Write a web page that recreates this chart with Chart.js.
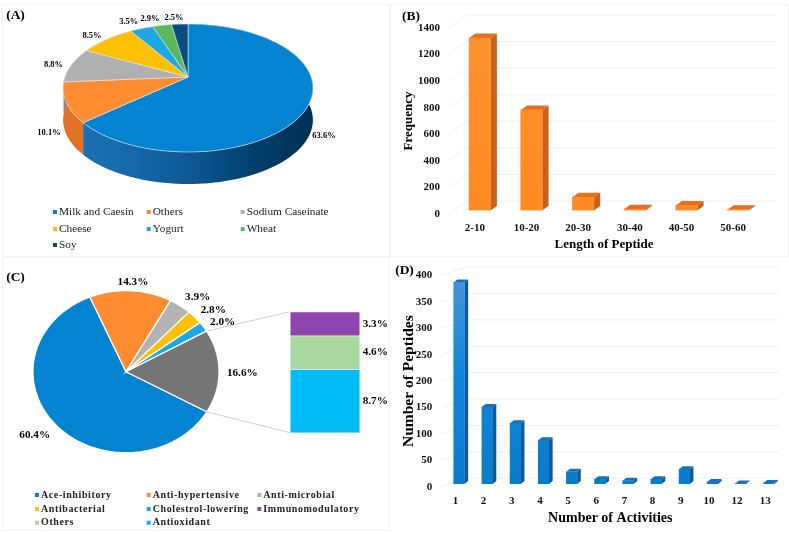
<!DOCTYPE html>
<html>
<head>
<meta charset="utf-8">
<script src="https://cdn.jsdelivr.net/npm/chart.js@4"></script>
<style>
  html, body { margin: 0; padding: 0; background: #fff; }
  #page { position: relative; width: 789px; height: 534px; overflow: hidden; filter: blur(0.35px); }
  .frame { position: absolute; border: 1.5px solid #f4f4f4; box-sizing: border-box; }
  .box { position: absolute; }
  canvas { display: block; }
</style>
</head>
<body>
<div id="page">
  <div class="frame" style="left:2px;top:4px;width:388px;height:253px"></div>
  <div class="frame" style="left:390px;top:4px;width:399px;height:253px"></div>
  <div class="frame" style="left:2px;top:257px;width:388px;height:274px"></div>
  <div class="box" style="left:0;top:0;width:390px;height:260px"><canvas id="chart_a"></canvas></div>
  <div class="box" style="left:390px;top:0;width:399px;height:260px"><canvas id="chart_b"></canvas></div>
  <div class="box" style="left:0;top:260px;width:390px;height:274px"><canvas id="chart_c"></canvas></div>
  <div class="box" style="left:280px;top:300px;width:90px;height:145px"><canvas id="chart_c_stack"></canvas></div>
  <div class="box" style="left:390px;top:260px;width:399px;height:274px"><canvas id="chart_d"></canvas></div>
</div>
<script>
const serif = "'Liberation Serif', 'Times New Roman', serif";

// panel A
const a_labels = ["Milk and Caesin", "Others", "Sodium Caseinate", "Cheese", "Yogurt", "Wheat", "Soy"];
const a_values = [63.6, 10.1, 8.8, 8.5, 3.5, 2.9, 2.5];
const a_colors = ["#0484d0", "#ff8c30", "#b0b0b0", "#ffc000", "#1ca8e6", "#5cb85c", "#0a4c80"];

// panel B
const b_labels = ["2-10", "10-20", "20-30", "30-40", "40-50", "50-60"];
const b_values = [1298, 757, 100, 10, 38, 6];

// panel C
const c_labels = ["Ace-inhibitory", "Anti-hypertensive", "Anti-microbial", "Antibacterial", "Cholestrol-lowering", ""];
const c_values = [60.4, 14.3, 3.9, 2.8, 2.0, 16.6];
const c_colors = ["#0484d0", "#ff8c30", "#b3b3b3", "#ffc000", "#1ca8e6", "#767676"];
const c_stack_labels = ["Antioxidant", "Others", "Immunomodulatory"];
const c_stack_values = [8.7, 4.6, 3.3];
const c_stack_colors = ["#00bdf7", "#a9d89e", "#9244ae"];

// panel D
const d_labels = ["1", "2", "3", "4", "5", "6", "7", "8", "9", "10", "12", "13"];
const d_values = [382, 146, 115, 83, 23, 9, 6, 9, 28, 4, 1, 2];

var project = function(p, angle) {
  // rim of the pie, p.k gives the perspective of the tilted one in panel A
  let u = Math.cos(angle), v = Math.sin(angle);
  let d = 1 - p.k * v;
  return { x: p.cx + p.a * u / d, y: p.cy + p.b * v / d };
};

var rim_points = function(p, start, end) {
  let pts = [];
  let steps = Math.max(2, Math.ceil((end - start) / 0.02));
  for (let i = 0; i <= steps; i++) {
    pts.push(project(p, start + (end - start) * i / steps));
  }
  return pts;
};

var draw_text_list = function(ctx, items) {
  ctx.save();
  ctx.fillStyle = "#000";
  ctx.textAlign = "center";
  ctx.textBaseline = "middle";
  items.forEach(function(t) {
    ctx.font = t.font;
    ctx.fillText(t.text, t.x, t.y);
  });
  ctx.restore();
};

var draw_legend = function(ctx, rows, font, spacing) {
  ctx.save();
  ctx.textAlign = "left";
  ctx.textBaseline = "middle";
  ctx.font = font;
  ctx.letterSpacing = spacing;
  rows.forEach(function(r) {
    ctx.fillStyle = r.color;
    ctx.fillRect(r.x, r.y - 2, 4, 4);
    ctx.fillStyle = "#222";
    ctx.fillText(r.text, r.x + 6, r.y);
  });
  ctx.restore();
};

// draws the slices with the angles the doughnut controller worked out
var pie_plugin = {
  id: "pie3d",
  beforeDatasetDraw(chart, args, opts) {
    let ctx = chart.ctx;
    let p = opts.shape;
    let arcs = chart.getDatasetMeta(0).data;
    let colors = chart.data.datasets[0].backgroundColor;

    ctx.save();
    if (p.depth) {
      arcs.forEach(function(arc, i) {
        let pts = rim_points(p, arc.startAngle, arc.endAngle);
        let grad = ctx.createLinearGradient(80, 0, 313, 0);
        p.wall[i].forEach((c, n) => grad.addColorStop(n / (p.wall[i].length - 1), c));
        ctx.fillStyle = grad;
        ctx.beginPath();
        pts.forEach((q, n) => n ? ctx.lineTo(q.x, q.y) : ctx.moveTo(q.x, q.y));
        pts.slice().reverse().forEach(q => ctx.lineTo(q.x, q.y + p.depth));
        ctx.closePath();
        ctx.fill();
      });
    }
    arcs.forEach(function(arc, i) {
      let pts = rim_points(p, arc.startAngle, arc.endAngle);
      ctx.beginPath();
      ctx.moveTo(p.cx, p.cy);
      pts.forEach(q => ctx.lineTo(q.x, q.y));
      ctx.closePath();
      ctx.fillStyle = colors[i];
      ctx.fill();
      ctx.strokeStyle = p.edge;
      ctx.lineWidth = p.edgeWidth;
      ctx.stroke();
    });
    ctx.restore();
    return false;
  },
  afterDraw(chart, args, opts) {
    if (opts.after) opts.after(chart);
  }
};

var depth_bars = function(ctx, meta, d) {
  // top and side faces behind the bars, same elements as the chart draws
  meta.data.forEach(function(bar) {
    let l = bar.x - bar.width / 2, r = bar.x + bar.width / 2;
    ctx.fillStyle = d.side;
    ctx.beginPath();
    ctx.moveTo(r, bar.y);
    ctx.lineTo(r + d.dx, bar.y - d.dy);
    ctx.lineTo(r + d.dx, bar.base - d.dy);
    ctx.lineTo(r, bar.base);
    ctx.closePath();
    ctx.fill();
    ctx.fillStyle = d.top;
    ctx.beginPath();
    ctx.moveTo(l, bar.y);
    ctx.lineTo(l + d.dx, bar.y - d.dy);
    ctx.lineTo(r + d.dx, bar.y - d.dy);
    ctx.lineTo(r, bar.y);
    ctx.closePath();
    ctx.fill();
  });
};

var bar_plugin = {
  id: "bar3d",
  beforeDatasetsDraw(chart, args, opts) {
    let ctx = chart.ctx;
    let y = chart.scales.y;
    let left = chart.chartArea.left;
    ctx.save();
    ctx.strokeStyle = "#f0f0f0";
    ctx.lineWidth = 1;
    y.ticks.forEach(function(t) {
      let py = y.getPixelForValue(t.value);
      ctx.beginPath();
      ctx.moveTo(left, py);
      ctx.lineTo(left + opts.wall.dx, py - opts.wall.dy);
      ctx.lineTo(opts.wall.right, py - opts.wall.dy);
      ctx.stroke();
    });
    ctx.restore();
    ctx.save();
    ctx.translate(opts.shift.x, opts.shift.y);
    depth_bars(ctx, chart.getDatasetMeta(0), opts);
  },
  afterDatasetsDraw(chart, args, opts) {
    chart.ctx.restore();
    draw_text_list(chart.ctx, opts.notes);
  }
};

var bar_gradient = function(chart, stops) {
  let area = chart.chartArea;
  if (!area) return stops[0];
  let grad = chart.ctx.createLinearGradient(0, area.top, 0, area.bottom);
  stops.forEach((c, n) => grad.addColorStop(n / (stops.length - 1), c));
  return grad;
};

var make_bar = function(id, labels, values, o) {
  return new Chart(id, {
    type: "bar",
    data: {
      labels: labels,
      datasets: [{
        data: values,
        barThickness: o.barWidth,
        backgroundColor: c => bar_gradient(c.chart, o.front),
      }],
    },
    options: {
      responsive: true,
      maintainAspectRatio: false,
      animation: false,
      layout: { padding: { top: o.top, right: o.right, left: 0, bottom: 0 } },
      plugins: {
        legend: { display: false },
        tooltip: { enabled: false },
        bar3d: { dx: o.dx, dy: o.dy, side: o.side, top: o.topFace, wall: o.wall, shift: o.shift, notes: o.notes },
      },
      scales: {
        x: {
          grid: { display: false, drawTicks: false },
          border: { display: false },
          ticks: { color: "#111", font: { family: serif, weight: "bold", size: o.tickSize }, padding: o.xPad, maxRotation: 0, autoSkip: false },
          title: { display: true, text: o.xTitle, color: "#000", font: { family: serif, weight: "bold", size: o.titleX }, padding: { top: 0, bottom: o.xTitlePad } },
          afterFit: s => { s.height = o.xHeight; },
        },
        y: {
          min: 0,
          max: o.max,
          grid: { display: false, drawTicks: false },
          border: { display: false },
          ticks: { stepSize: o.step, color: "#111", font: { family: serif, weight: "bold", size: o.tickSize }, padding: o.yPad, callback: v => v },
          title: { display: true, text: o.yTitle, color: "#000", font: { family: serif, weight: "bold", size: o.titleY }, padding: { top: o.yTitlePad, bottom: 0 } },
          afterFit: s => { s.width = o.yWidth; },
        },
      },
    },
    plugins: [bar_plugin],
  });
};

const a_shape = {
  cx: 188, cy: 77, a: 123, b: 62.1, k: 0.172, depth: 32, edge: "#dfe9f2", edgeWidth: 0.6,
  wall: [
    ["#1a70b4", "#1468a8", "#0c5590", "#003f6c", "#002f52"],
    ["#e07226", "#d96a1e"],
    ["#8a8a8a", "#8a8a8a"],
    ["#c79500", "#c79500"],
    ["#1483b5", "#1483b5"],
    ["#44904a", "#44904a"],
    ["#083a60", "#083a60"],
  ],
};

new Chart("chart_a", {
  type: "pie",
  data: {
    labels: a_labels,
    datasets: [{ data: a_values, backgroundColor: a_colors }],
  },
  options: {
    responsive: true,
    maintainAspectRatio: false,
    animation: false,
    plugins: {
      legend: { display: false },
      tooltip: { enabled: false },
      pie3d: {
        shape: a_shape,
        after: function(chart) {
          let label_font = "bold 8.5px " + serif;
          let pos = [[324, 136], [49, 133], [53.5, 65], [92, 36], [128.7, 22], [150, 19], [174, 17.5]];
          let notes = a_values.map((v, i) => ({ text: v.toFixed(1) + "%", x: pos[i][0], y: pos[i][1], font: label_font }));
          notes.push({ text: "(A)", x: 15.5, y: 15.5, font: "bold 13.5px " + serif });
          draw_text_list(chart.ctx, notes);
          let cols = [53, 146.7, 240.7], rows = [212, 229, 245];
          draw_legend(chart.ctx, a_labels.map((t, i) => ({
            text: t, color: a_colors[i], x: cols[i % 3], y: rows[Math.floor(i / 3)],
          })), "11.3px " + serif, "0px");
        },
      },
    },
  },
  plugins: [pie_plugin],
});

make_bar("chart_b", b_labels, b_values, {
  max: 1400, step: 200, barWidth: 21.5,
  top: 28, right: 30, yWidth: 59, xHeight: 46,
  tickSize: 11, xPad: 7.5, yPad: 9, titleX: 13, titleY: 13, xTitlePad: 8, yTitlePad: 11,
  xTitle: "Length of Peptide", yTitle: "Frequency",
  front: ["#ff9130", "#ff8a24"], side: "#c8621a", topFace: "#e56f1c",
  dx: 6.3, dy: 4.5, shift: { x: 5, y: -3.5 }, wall: { dx: 18, dy: 13, right: 387 },
  notes: [{ text: "(B)", x: 21, y: 17, font: "bold 13.5px " + serif }],
});

const c_stack = new Chart("chart_c_stack", {
  type: "bar",
  data: {
    labels: [""],
    datasets: c_stack_values.map((v, i) => ({
      label: c_stack_labels[i], data: [v], backgroundColor: c_stack_colors[i],
      borderColor: "#fff", borderWidth: 0.8, barThickness: 70, stack: "s",
    })),
  },
  options: {
    responsive: true,
    maintainAspectRatio: false,
    animation: false,
    layout: { padding: { top: 11.7, bottom: 12.3, left: 10, right: 10 } },
    plugins: { legend: { display: false }, tooltip: { enabled: false } },
    scales: {
      x: { display: false, stacked: true },
      y: { display: false, stacked: true, min: 0, max: 16.6 },
    },
  },
});

new Chart("chart_c", {
  type: "pie",
  data: {
    labels: c_labels,
    datasets: [{ data: c_values, backgroundColor: c_colors }],
  },
  options: {
    responsive: true,
    maintainAspectRatio: false,
    animation: false,
    rotation: 119.7,
    plugins: {
      legend: { display: false },
      tooltip: { enabled: false },
      pie3d: {
        shape: { cx: 126, cy: 111.7, a: 93, b: 81, k: 0, depth: 0, edge: "#fff", edgeWidth: 1.2 },
        after: function(chart) {
          let ctx = chart.ctx;
          let shape = chart.options.plugins.pie3d.shape;
          let arcs = chart.getDatasetMeta(0).data;
          let grey = arcs[5];
          let top_rim = project(shape, grey.startAngle);
          let bottom_rim = project(shape, grey.endAngle);
          // leader lines go from the grey slice to the stack, its canvas sits at 280,40 in this one
          let bars = c_stack_values.map((v, i) => c_stack.getDatasetMeta(i).data[0]);
          let stack_left = 280 + bars[0].x - bars[0].width / 2;
          ctx.save();
          ctx.strokeStyle = "#cfcfcf";
          ctx.lineWidth = 1;
          ctx.beginPath();
          ctx.moveTo(top_rim.x, top_rim.y);
          ctx.lineTo(stack_left, 40 + bars[2].y);
          ctx.moveTo(bottom_rim.x, bottom_rim.y);
          ctx.lineTo(stack_left, 40 + bars[0].base);
          ctx.stroke();
          ctx.restore();

          let label_font = "bold 11.2px " + serif;
          let pos = [[34.7, 174.7], [133, 21.7], [197.7, 37.3], [213.3, 50.3], [222.7, 62], [242.3, 112.7]];
          let notes = c_values.map((v, i) => ({ text: v.toFixed(1) + "%", x: pos[i][0], y: pos[i][1], font: label_font }));
          bars.forEach(function(b, i) {
            notes.push({ text: c_stack_values[i].toFixed(1) + "%", x: 375.3, y: 40 + (b.y + b.base) / 2, font: label_font });
          });
          notes.push({ text: "(C)", x: 15.5, y: 18, font: "bold 13.5px " + serif });
          draw_text_list(ctx, notes);

          let names = c_labels.slice(0, 5).concat(["Immunomodulatory", "Others", "Antioxidant"]);
          let colors = c_colors.slice(0, 5).concat(["#9244ae", "#a9d89e", "#00bdf7"]);
          let cols = [35, 146.7, 257.3], rows = [235, 249, 262.7];
          draw_legend(ctx, names.map((t, i) => ({
            text: t, color: colors[i], x: cols[i % 3], y: rows[Math.floor(i / 3)],
          })), "bold 10px " + serif, "0.6px");
        },
      },
    },
  },
  plugins: [pie_plugin],
});

make_bar("chart_d", d_labels, d_values, {
  max: 400, step: 50, barWidth: 10.7,
  top: 14.7, right: 9.7, yWidth: 51.3, xHeight: 47.3,
  tickSize: 11, xPad: 8, yPad: 9, titleX: 14, titleY: 15.5, xTitlePad: 7, yTitlePad: 10,
  xTitle: "Number of Activities", yTitle: "Number of Peptides",
  front: ["#4a94d8", "#0e86d6", "#0a7cc8"], side: "#0a5a9c", topFace: "#1d6fb4",
  dx: 3.7, dy: 3, shift: { x: 3.7, y: -2.7 }, wall: { dx: 25, dy: 8.5, right: 389 },
  notes: [{ text: "(D)", x: 14.5, y: 11, font: "bold 13.5px " + serif }],
});
</script>
</body>
</html>
